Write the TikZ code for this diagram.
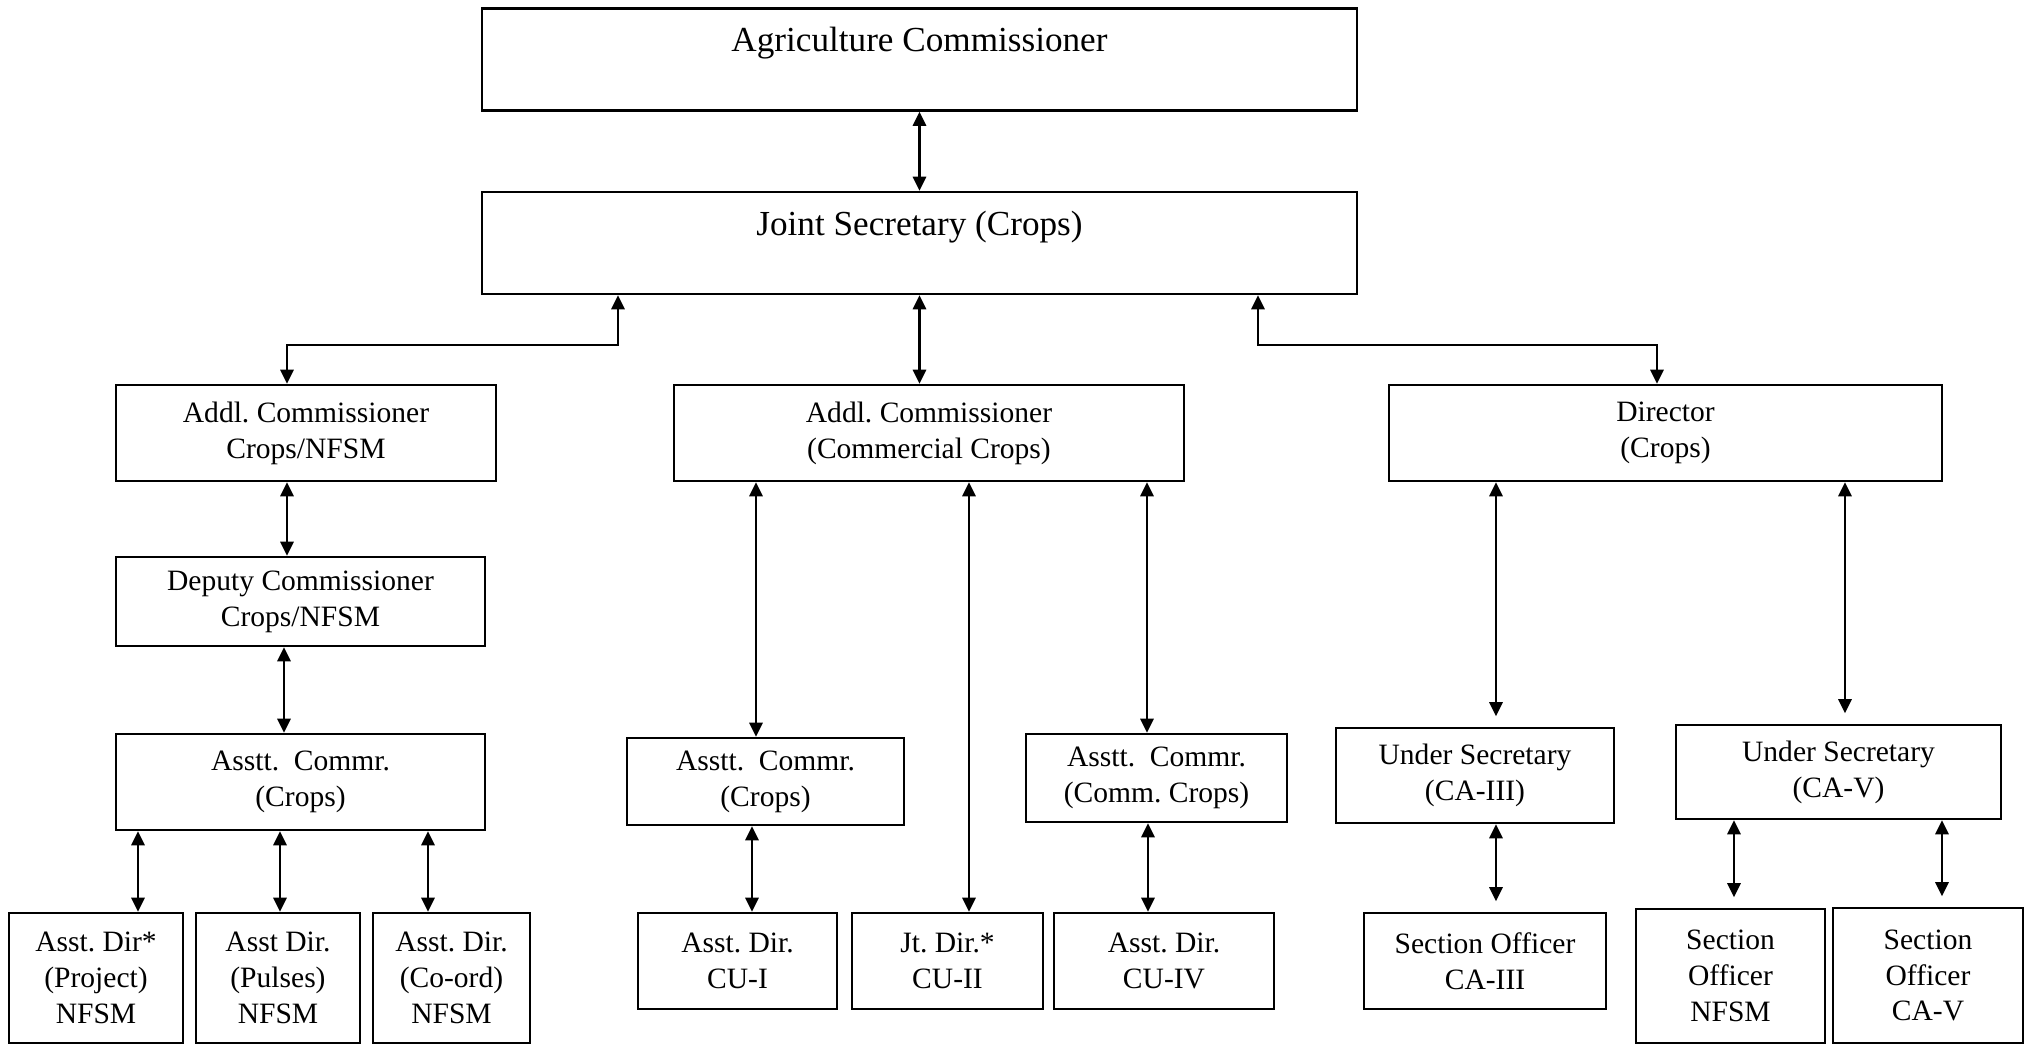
\documentclass[tikz,border=0pt]{standalone}
\usepackage{fontspec}
\setmainfont{Liberation Serif}
\usetikzlibrary{arrows.meta}
\frenchspacing

\begin{document}
\begin{tikzpicture}[x=0.01cm, y=-0.01cm,
    box/.style={draw, line width=0.7pt, align=center, inner sep=0pt,
        font=\fontsize{8.4}{10.2}\selectfont},
    topbox/.style={box, minimum width=8.75cm, minimum height=1.02cm,
        text height=7pt, text depth=11.5pt, font=\fontsize{10}{12}\selectfont},
    link/.style={{Triangle[length=4pt,width=3.8pt]}-{Triangle[length=4pt,width=3.8pt]},
        line width=0.6pt}
]
    \useasboundingbox (0,0) rectangle (2026,1044);

    % Top of the chart
    \node[topbox] (agc) at (919.5,59.5) {Agriculture Commissioner};
    \node[topbox] (jsc) at (919.5,243) {Joint Secretary (Crops)};

    % Second level
    \node[box, minimum width=3.80cm, minimum height=0.96cm] (acnfsm) at (306,433)
        {Addl. Commissioner\\Crops/NFSM};
    \node[box, minimum width=5.10cm, minimum height=0.96cm] (accom) at (929,433)
        {Addl. Commissioner\\(Commercial Crops)};
    \node[box, minimum width=5.53cm, minimum height=0.96cm] (dirc) at (1665.5,433)
        {Director\\(Crops)};

    % Left branch (Crops/NFSM)
    \node[box, minimum width=3.69cm, minimum height=0.89cm] (dcnfsm) at (300.5,601.5)
        {Deputy Commissioner\\Crops/NFSM};
    \node[box, minimum width=3.69cm, minimum height=0.96cm] (asc1) at (300.5,782)
        {Asstt.\ \ Commr.\\(Crops)};
    \node[box, minimum width=1.74cm, minimum height=1.30cm] (adproj) at (96,978)
        {Asst. Dir*\\(Project)\\NFSM};
    \node[box, minimum width=1.64cm, minimum height=1.30cm] (adpul) at (278,978)
        {Asst Dir.\\(Pulses)\\NFSM};
    \node[box, minimum width=1.57cm, minimum height=1.30cm] (adcord) at (451.5,978)
        {Asst. Dir.\\(Co-ord)\\NFSM};

    % Middle branch (Commercial Crops)
    \node[box, minimum width=2.77cm, minimum height=0.87cm] (asc2) at (765.5,781.5)
        {Asstt.\ \ Commr.\\(Crops)};
    \node[box, minimum width=2.61cm, minimum height=0.88cm] (asc3) at (1156.5,778)
        {Asstt.\ \ Commr.\\(Comm. Crops)};
    \node[box, minimum width=1.99cm, minimum height=0.96cm] (adcu1) at (737.5,961)
        {Asst. Dir.\\CU-I};
    \node[box, minimum width=1.91cm, minimum height=0.96cm] (jdcu2) at (947.5,961)
        {Jt. Dir.*\\CU-II};
    \node[box, minimum width=2.20cm, minimum height=0.96cm] (adcu4) at (1164,961)
        {Asst. Dir.\\CU-IV};

    % Right branch (Director)
    \node[box, minimum width=2.78cm, minimum height=0.95cm] (us3) at (1475,775.5)
        {Under Secretary\\(CA-III)};
    \node[box, minimum width=3.25cm, minimum height=0.94cm] (us5) at (1838.5,772)
        {Under Secretary\\(CA-V)};
    \node[box, minimum width=2.42cm, minimum height=0.96cm] (so3) at (1485,961)
        {Section Officer\\CA-III};
    \node[box, minimum width=1.89cm, minimum height=1.34cm] (sonfsm) at (1730.5,976)
        {Section\\Officer\\NFSM};
    \node[box, minimum width=1.90cm, minimum height=1.35cm] (so5) at (1928,975.5)
        {Section\\Officer\\CA-V};

    % Links from the top
    \coordinate (jl) at (618,345);
    \coordinate (jlb) at (287,345);
    \coordinate (jr) at (1258,345);
    \coordinate (jrb) at (1657,345);
    \draw[link] (agc) -- (jsc);
    \draw[link] (jsc) -- (jsc |- accom.north);
    \draw[link] (jsc.south -| jl) -- (jl) -- (jlb) -- (acnfsm.north -| jlb);
    \draw[link] (jsc.south -| jr) -- (jr) -- (jrb) -- (dirc.north -| jrb);

    % Left branch links
    \draw[link] (acnfsm.south -| 287,0) -- (dcnfsm.north -| 287,0);
    \draw[link] (dcnfsm.south -| 284,0) -- (asc1.north -| 284,0);
    \draw[link] (asc1.south -| 138,0) -- (adproj.north -| 138,0);
    \draw[link] (asc1.south -| 280,0) -- (adpul.north -| 280,0);
    \draw[link] (asc1.south -| 428,0) -- (adcord.north -| 428,0);

    % Middle branch links
    \draw[link] (accom.south -| 756,0) -- (asc2.north -| 756,0);
    \draw[link] (accom.south -| 969,0) -- (jdcu2.north -| 969,0);
    \draw[link] (accom.south -| 1147,0) -- (asc3.north -| 1147,0);
    \draw[link] (asc2.south -| 752,0) -- (adcu1.north -| 752,0);
    \draw[link] (asc3.south -| 1148,0) -- (adcu4.north -| 1148,0);

    % Right branch links
    \draw[link] (dirc.south -| 1496,0) -- ([yshift=3pt]us3.north -| 1496,0);
    \draw[link] (dirc.south -| 1845,0) -- ([yshift=3pt]us5.north -| 1845,0);
    \draw[link] (us3.south -| 1496,0) -- ([yshift=3pt]so3.north -| 1496,0);
    \draw[link] (us5.south -| 1734,0) -- ([yshift=3pt]sonfsm.north -| 1734,0);
    \draw[link] (us5.south -| 1942,0) -- ([yshift=3pt]so5.north -| 1942,0);

\end{tikzpicture}
\end{document}
